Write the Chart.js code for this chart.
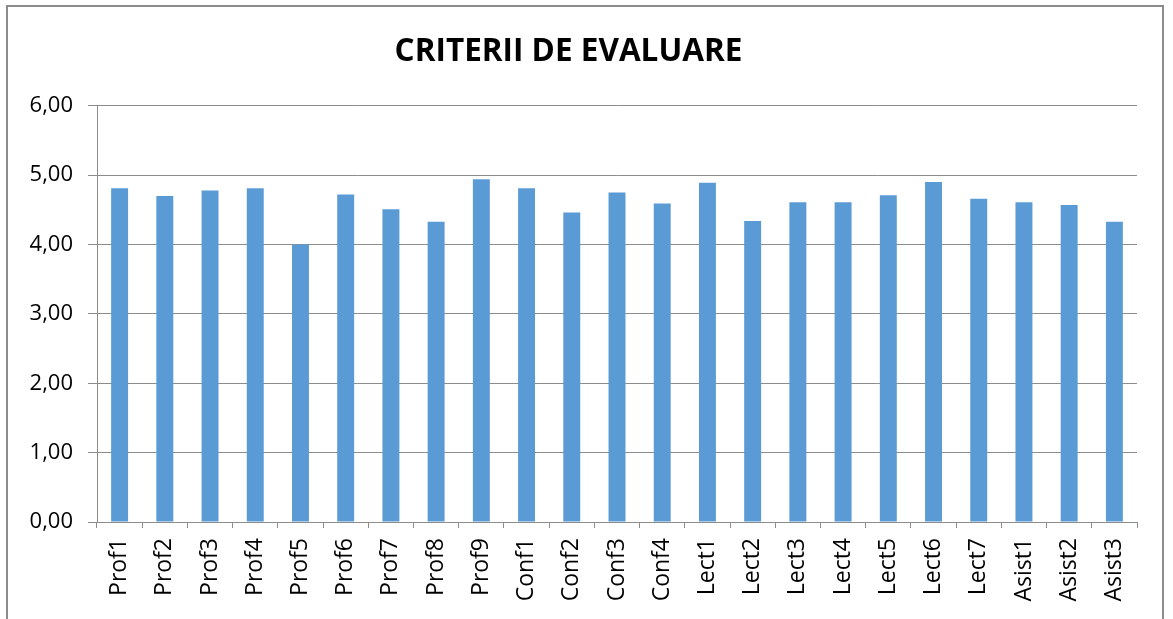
<!DOCTYPE html>
<html>
<head>
<meta charset="utf-8">
<script src="https://cdn.jsdelivr.net/npm/chart.js@4.4.1/dist/chart.umd.min.js"></script>
<style>
  html, body { margin: 0; padding: 0; background: #fff; }
  #wrap { position: relative; width: 1173px; height: 619px; overflow: hidden; }
  #frame { position: absolute; left: 6px; top: 5px; width: 1158px; height: 640px;
           border: 2px solid #8c8c8c; box-sizing: border-box; pointer-events: none; }
  canvas { position: absolute; left: 0; top: 0; }
</style>
</head>
<body>
<div id="wrap">
  <canvas id="myChart" width="1173" height="619"></canvas>
  <div id="frame"></div>
</div>
<script>
const categories = ['Prof1', 'Prof2', 'Prof3', 'Prof4', 'Prof5', 'Prof6', 'Prof7', 'Prof8', 'Prof9',
  'Conf1', 'Conf2', 'Conf3', 'Conf4',
  'Lect1', 'Lect2', 'Lect3', 'Lect4', 'Lect5', 'Lect6', 'Lect7',
  'Asist1', 'Asist2', 'Asist3'];
const scores = [4.81, 4.70, 4.78, 4.81, 4.00, 4.72, 4.51, 4.33, 4.94,
  4.81, 4.46, 4.75, 4.59,
  4.89, 4.34, 4.61, 4.61, 4.71, 4.90, 4.66,
  4.61, 4.57, 4.33];
const chartTitle = 'CRITERII DE EVALUARE';
const yTicks = [0, 1, 2, 3, 4, 5, 6];

const font = '"Open Sans", "DejaVu Sans", sans-serif';

function prepareTemplate() {
  return {
    type: 'bar',
    data: {
      labels: categories,
      datasets: [{
        data: scores,
        backgroundColor: '#5b9bd5',
        borderWidth: 0,
        barPercentage: 0.75,
        categoryPercentage: 0.5
      }]
    },
    options: {
      responsive: false,
      animation: false,
      layout: { padding: { left: 0, right: 36, top: 0, bottom: 0 } },
      plugins: {
        legend: { display: false },
        tooltip: { enabled: false },
        title: {
          display: true,
          text: chartTitle,
          color: '#000',
          font: { family: font, size: 31.5, weight: 'bold', lineHeight: 1.2 },
          padding: { top: 33, bottom: 35 }
        }
      },
      scales: {
        x: {
          offset: true,
          grid: { offset: true, drawOnChartArea: false, drawTicks: true, tickLength: 6, color: '#8c8c8c', lineWidth: 1 },
          border: { display: true, color: '#8c8c8c', width: 1 },
          ticks: {
            color: '#000', padding: 10, minRotation: 90, maxRotation: 90, autoSkip: false,
            font: { family: font, size: 23 }
          },
          afterFit: function(axis) { axis.height = 97; }
        },
        y: {
          min: 0, max: 6,
          afterBuildTicks: function(axis) { axis.ticks = yTicks.map(v => ({ value: v })); },
          grid: { color: '#8c8c8c', lineWidth: 1, tickLength: 9 },
          border: { display: true, color: '#8c8c8c', width: 1 },
          ticks: {
            color: '#000', padding: 15,
            font: { family: font, size: 22 },
            callback: v => v.toFixed(2).replace('.', ',')
          },
          afterFit: function(axis) { axis.width = 97; }
        }
      }
    }
  };
}

const ctx = document.getElementById('myChart').getContext('2d');
new Chart(ctx, prepareTemplate());
</script>
</body>
</html>
